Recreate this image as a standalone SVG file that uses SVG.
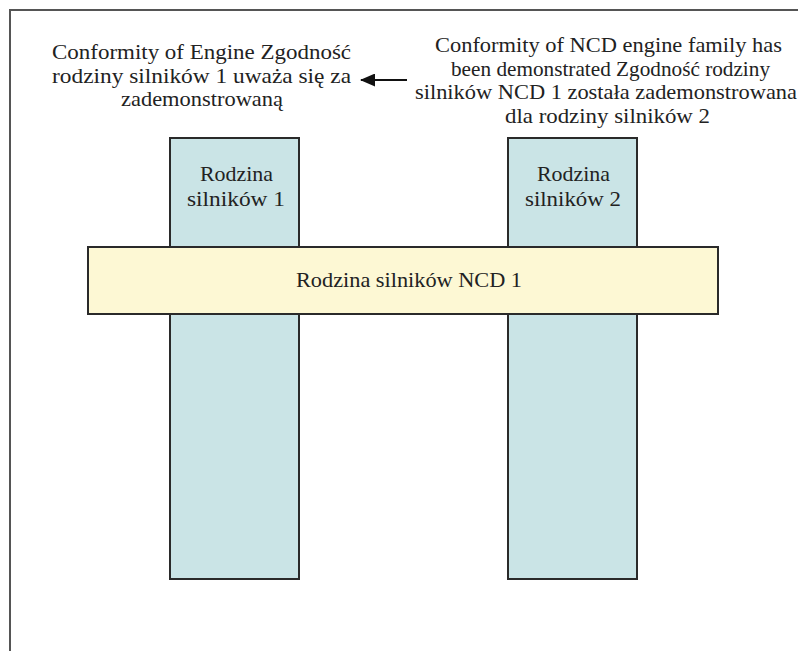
<svg xmlns="http://www.w3.org/2000/svg" width="798" height="651" viewBox="0 0 798 651">
<defs>
<style>
.t{font-family:"Liberation Serif","Times New Roman",serif;font-size:21px;fill:#222}
.blue{fill:#cae4e6;stroke:#2a2a2a;stroke-width:2}
.yel{fill:#fdf8d4;stroke:#2a2a2a;stroke-width:2}
.frame{fill:none;stroke:#555;stroke-width:2}
</style>
<marker id="ah" viewBox="0 0 15 13" refX="14" refY="6.5" markerWidth="15" markerHeight="13" markerUnits="userSpaceOnUse" orient="auto">
<path d="M0,0 L15,6.5 L0,13 Z" fill="#111"/>
</marker>
</defs>
<rect width="798" height="651" fill="#fff"/>
<path class="frame" d="M10,651 V10 H798"/>
<g id="family1">
<rect class="blue" x="170" y="138" width="129" height="441"/>
<text class="t" x="200" y="181" textLength="73" lengthAdjust="spacingAndGlyphs">Rodzina</text>
<text class="t" x="187" y="206" textLength="98" lengthAdjust="spacingAndGlyphs">silników 1</text>
</g>
<g id="family2">
<rect class="blue" x="508" y="138" width="129" height="441"/>
<text class="t" x="537" y="181" textLength="73" lengthAdjust="spacingAndGlyphs">Rodzina</text>
<text class="t" x="525" y="206" textLength="96" lengthAdjust="spacingAndGlyphs">silników 2</text>
</g>
<g id="ncd">
<rect class="yel" x="88" y="247" width="630" height="67"/>
<text class="t" x="296" y="287" textLength="226" lengthAdjust="spacingAndGlyphs">Rodzina silników NCD 1</text>
</g>
<g id="note1">
<text class="t" x="52" y="59" textLength="299" lengthAdjust="spacingAndGlyphs">Conformity of Engine Zgodność</text>
<text class="t" x="52" y="83" textLength="299" lengthAdjust="spacingAndGlyphs">rodziny silników 1 uważa się za</text>
<text class="t" x="121" y="106" textLength="162" lengthAdjust="spacingAndGlyphs">zademonstrowaną</text>
</g>
<g id="note2">
<text class="t" x="435" y="52" textLength="347" lengthAdjust="spacingAndGlyphs">Conformity of NCD engine family has</text>
<text class="t" x="451" y="76" textLength="319" lengthAdjust="spacingAndGlyphs">been demonstrated Zgodność rodziny</text>
<text class="t" x="415" y="99" textLength="382" lengthAdjust="spacingAndGlyphs">silników NCD 1 została zademonstrowana</text>
<text class="t" x="505" y="123" textLength="205" lengthAdjust="spacingAndGlyphs">dla rodziny silników 2</text>
</g>
<g id="connectors">
<line x1="407" y1="80" x2="361" y2="80" stroke="#111" stroke-width="2" marker-end="url(#ah)"/>
</g>
</svg>
